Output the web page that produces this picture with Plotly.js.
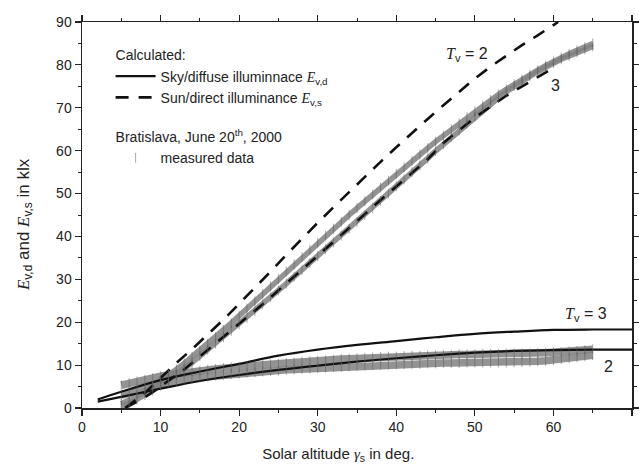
<!DOCTYPE html>
<html>
<head>
<meta charset="utf-8">
<script src="https://cdn.plot.ly/plotly-3.0.1.min.js"></script>
<style>html,body{margin:0;padding:0;background:#fff}#chart{width:639px;height:472px}</style>
</head>
<body>
<div id="chart"></div>
<script>
// Calculated sky/diffuse illuminance (klx)
const diffX = [2,5,10,15,20,25,30,35,40,45,50,55,60,65,70];
const diffTv3 = [2.0,3.8,6.5,8.5,10.3,12.2,13.6,14.7,15.6,16.5,17.3,17.8,18.2,18.3,18.3];
const diffTv2 = [1.5,2.6,4.5,6.3,7.7,8.9,9.9,10.8,11.6,12.3,12.9,13.3,13.5,13.6,13.6];

// Calculated sun/direct illuminance (klx)
const dirX2 = [5.5,8,10,12,14,16,18,20,22,24,26,28,30,32,34,36,38,40,42,44,46,48,50,52,54,56,58,60,60.6];
const dirTv2 = [0,3.5,7,10.5,13.7,17.1,20.6,24.3,28,31.8,35.7,39.5,43.2,46.8,50.4,53.9,57.4,60.8,64.2,67.4,70.6,73.8,76.8,79.6,82.2,84.6,86.9,89.2,90];
const dirX3 = [5.5,7,8,9,10,11,12,13,14,15,16,17,18,19,20,21,22,23,24,25,26,27,28,29,30,31,32,33,34,35,36,37,38,39,40,41,42,43,44,45,46,47,48,49,50,51,52,53,54,55,56,57,58,59,60];
const dirTv3 = [0,1.5,2.5,3.7,5,6.2,7.5,9,10.5,12,13.5,15,16.5,18,19.5,21,22.5,24.2,25.8,27.4,29,30.7,32.3,33.9,35.5,37.2,38.8,40.4,42,43.6,45.2,46.9,48.5,50.1,51.7,53.4,55,56.5,58,59.9,61.8,63.3,64.8,66.3,67.7,69,70.3,71.6,72.8,73.9,75,76.1,77.2,78.3,79.3];

// Measured data, Bratislava, June 20th, 2000 (solar altitude 5..65 deg)
const measX = [5,6,7,8,9,10,11,12,13,14,15,16,17,18,19,20,21,22,23,24,25,26,27,28,29,30,31,32,33,34,35,36,37,38,39,40,41,42,43,44,45,46,47,48,49,50,51,52,53,54,55,56,57,58,59,60,61,62,63,64,65];
const measDirAM = [1,1.8,2.8,3.9,5.1,6.4,7.7,9,10.4,11.9,13.4,15,16.5,18.2,19.8,21.5,23.2,24.9,26.6,28.4,30.1,31.8,33.5,35.2,36.9,38.5,40.2,41.8,43.4,45,46.6,48.2,49.8,51.4,53,54.6,56.1,57.6,59.1,60.6,62.1,63.5,65,66.4,67.8,69.2,70.5,71.8,73.1,74.3,75.5,76.6,77.7,78.8,79.8,80.8,81.7,82.6,83.4,84.2,85];
const measDirPM = [0.5,1,2,3,4,5.2,6.4,7.7,9.1,10.6,12.1,13.6,15,16.5,18,19.5,21,22.6,24.2,25.8,27.4,29,30.6,32.2,33.8,35.4,37,38.6,40.2,41.8,43.4,45,46.6,48.3,50,51.7,53.3,55,56.6,58.2,59.9,61.5,63.1,64.7,66.3,67.9,69.4,70.9,72.3,73.7,75,76.2,77.3,78.4,79.5,80.4,81.3,82.1,82.9,83.6,84.3];
const measDifAM = [5.3,5.8,6.2,6.6,7,7.4,7.7,8,8.3,8.5,8.7,8.9,9.1,9.3,9.5,9.6,9.8,9.9,10.1,10.2,10.3,10.5,10.6,10.8,10.9,11,11.1,11.2,11.4,11.5,11.6,11.7,11.8,11.9,12,12,12.1,12.2,12.2,12.3,12.3,12.4,12.4,12.5,12.5,12.5,12.6,12.6,12.6,12.7,12.7,12.7,12.7,12.8,12.9,13,13.1,13.2,13.3,13.5,13.7];
const measDifPM = [3,3.6,4.2,4.7,5.1,5.5,5.9,6.3,6.6,6.9,7.1,7.3,7.5,7.7,7.9,8,8.2,8.3,8.5,8.6,8.7,8.9,9,9.1,9.2,9.3,9.4,9.5,9.6,9.7,9.8,9.9,10,10.1,10.1,10.2,10.2,10.3,10.3,10.4,10.4,10.5,10.5,10.5,10.6,10.6,10.6,10.6,10.6,10.6,10.7,10.7,10.8,10.9,11,11.2,11.4,11.6,11.8,12,12.3];

const xTicks = [0,10,20,30,40,50,60,70];
const yTicks = [0,10,20,30,40,50,60,70,80,90];

const SERIF = "'Liberation Serif', 'DejaVu Serif', serif";
const SANS = "'Liberation Sans', Arial, sans-serif";
const E = (sub) => `<span style="font-family:${SERIF}"><i>E</i></span><sub>${sub}</sub>`;

const gray = 'rgba(128,128,128,0.85)';
const data = [];
// measured bands (continuous)
[[measDirAM, 5.5], [measDirPM, 5.5], [measDifAM, 7.5], [measDifPM, 7.5]].forEach(([y, w]) => {
  data.push({x: measX, y: y, mode: 'lines', line: {color: gray, width: w},
             showlegend: false, hoverinfo: 'skip'});
});
// calculated diffuse
data.push({x: diffX, y: diffTv3, mode: 'lines', line: {color: '#111', width: 2.2, shape: 'spline'},
           name: 'Sky/diffuse illuminnace ' + E('v,d'), legendgroup: 'calc',
           legendgrouptitle: {text: 'Calculated:'}});
data.push({x: diffX, y: diffTv2, mode: 'lines', line: {color: '#111', width: 2.2, shape: 'spline'},
           showlegend: false, legendgroup: 'calc'});
// calculated direct
data.push({x: dirX2, y: dirTv2, mode: 'lines', line: {color: '#111', width: 2.6, dash: '13px,10px'},
           name: 'Sun/direct illuminance ' + E('v,s'), legendgroup: 'calc'});
data.push({x: dirX3, y: dirTv3, mode: 'lines', line: {color: '#111', width: 2.6, dash: '13px,10px'},
           showlegend: false, legendgroup: 'calc'});
// measured markers
[measDirAM, measDirPM, measDifAM, measDifPM].forEach((y, i) => {
  data.push({x: measX, y: y, mode: 'markers',
             marker: {symbol: 'line-ns-open', size: 7, color: 'rgba(95,95,95,0.55)', line: {color: 'rgba(95,95,95,0.55)', width: 1}},
             name: 'measured data', showlegend: i === 0, legendgroup: 'meas',
             legendgrouptitle: {text: 'Bratislava, June 20<sup>th</sup>, 2000'}, hoverinfo: 'skip'});
});

const axisFont = {family: SANS, size: 14, color: '#222'};
const titleFont = {family: SANS, size: 15, color: '#222'};

const layout = {
  width: 639, height: 472,
  margin: {l: 82, r: 7, t: 22, b: 64},
  paper_bgcolor: '#fff', plot_bgcolor: '#fff',
  font: axisFont,
  showlegend: true,
  legend: {x: 0.052, y: 0.955, xanchor: 'left', yanchor: 'top', bgcolor: 'rgba(0,0,0,0)',
           font: {family: SANS, size: 14, color: '#222'},
           grouptitlefont: {family: SANS, size: 14, color: '#222'},
           traceorder: 'grouped', tracegroupgap: 18, itemwidth: 40},
  xaxis: {range: [0, 70], tickvals: xTicks, ticks: 'outside', ticklen: 6, tickwidth: 1.2, tickcolor: '#222',
          minor: {dtick: 5, ticks: 'outside', ticklen: 3, tickwidth: 1, tickcolor: '#222'},
          showgrid: false, zeroline: false, showline: true, linecolor: '#222', linewidth: 1.5, mirror: 'allticks',
          tickfont: axisFont,
          title: {text: 'Solar altitude <span style="font-family:' + SERIF + '"><i>γ</i></span><sub>s</sub> in deg.&nbsp;&nbsp;&nbsp;&nbsp;&nbsp;&nbsp;&nbsp;&nbsp;&nbsp;', font: titleFont, standoff: 14}},
  yaxis: {range: [0, 90], tickvals: yTicks, ticks: 'outside', ticklen: 6, tickwidth: 1.2, tickcolor: '#222',
          minor: {dtick: 5, ticks: 'outside', ticklen: 3, tickwidth: 1, tickcolor: '#222'},
          showgrid: false, zeroline: false, showline: true, linecolor: '#222', linewidth: 1.5, mirror: 'allticks',
          tickfont: axisFont,
          title: {text: E('v,d') + ' and ' + E('v,s') + ' in klx&nbsp;&nbsp;&nbsp;&nbsp;', font: {family: SANS, size: 17, color: '#222'}, standoff: 22}},
  annotations: [
    {x: 49, y: 82.5, xref: 'x', yref: 'y', showarrow: false,
     text: '<span style="font-family:' + SERIF + '"><i>T</i></span><sub>v</sub> = 2', font: {family: SANS, size: 16, color: '#222'}},
    {x: 60.3, y: 75.3, xref: 'x', yref: 'y', showarrow: false, text: '3', font: {family: SANS, size: 16, color: '#222'}},
    {x: 64.2, y: 21.8, xref: 'x', yref: 'y', showarrow: false,
     text: '<span style="font-family:' + SERIF + '"><i>T</i></span><sub>v</sub> = 3', font: {family: SANS, size: 16, color: '#222'}},
    {x: 67, y: 9.6, xref: 'x', yref: 'y', showarrow: false, text: '2', font: {family: SANS, size: 16, color: '#222'}}
  ]
};

Plotly.newPlot('chart', data, layout, {displayModeBar: false, staticPlot: true});
</script>
</body>
</html>
